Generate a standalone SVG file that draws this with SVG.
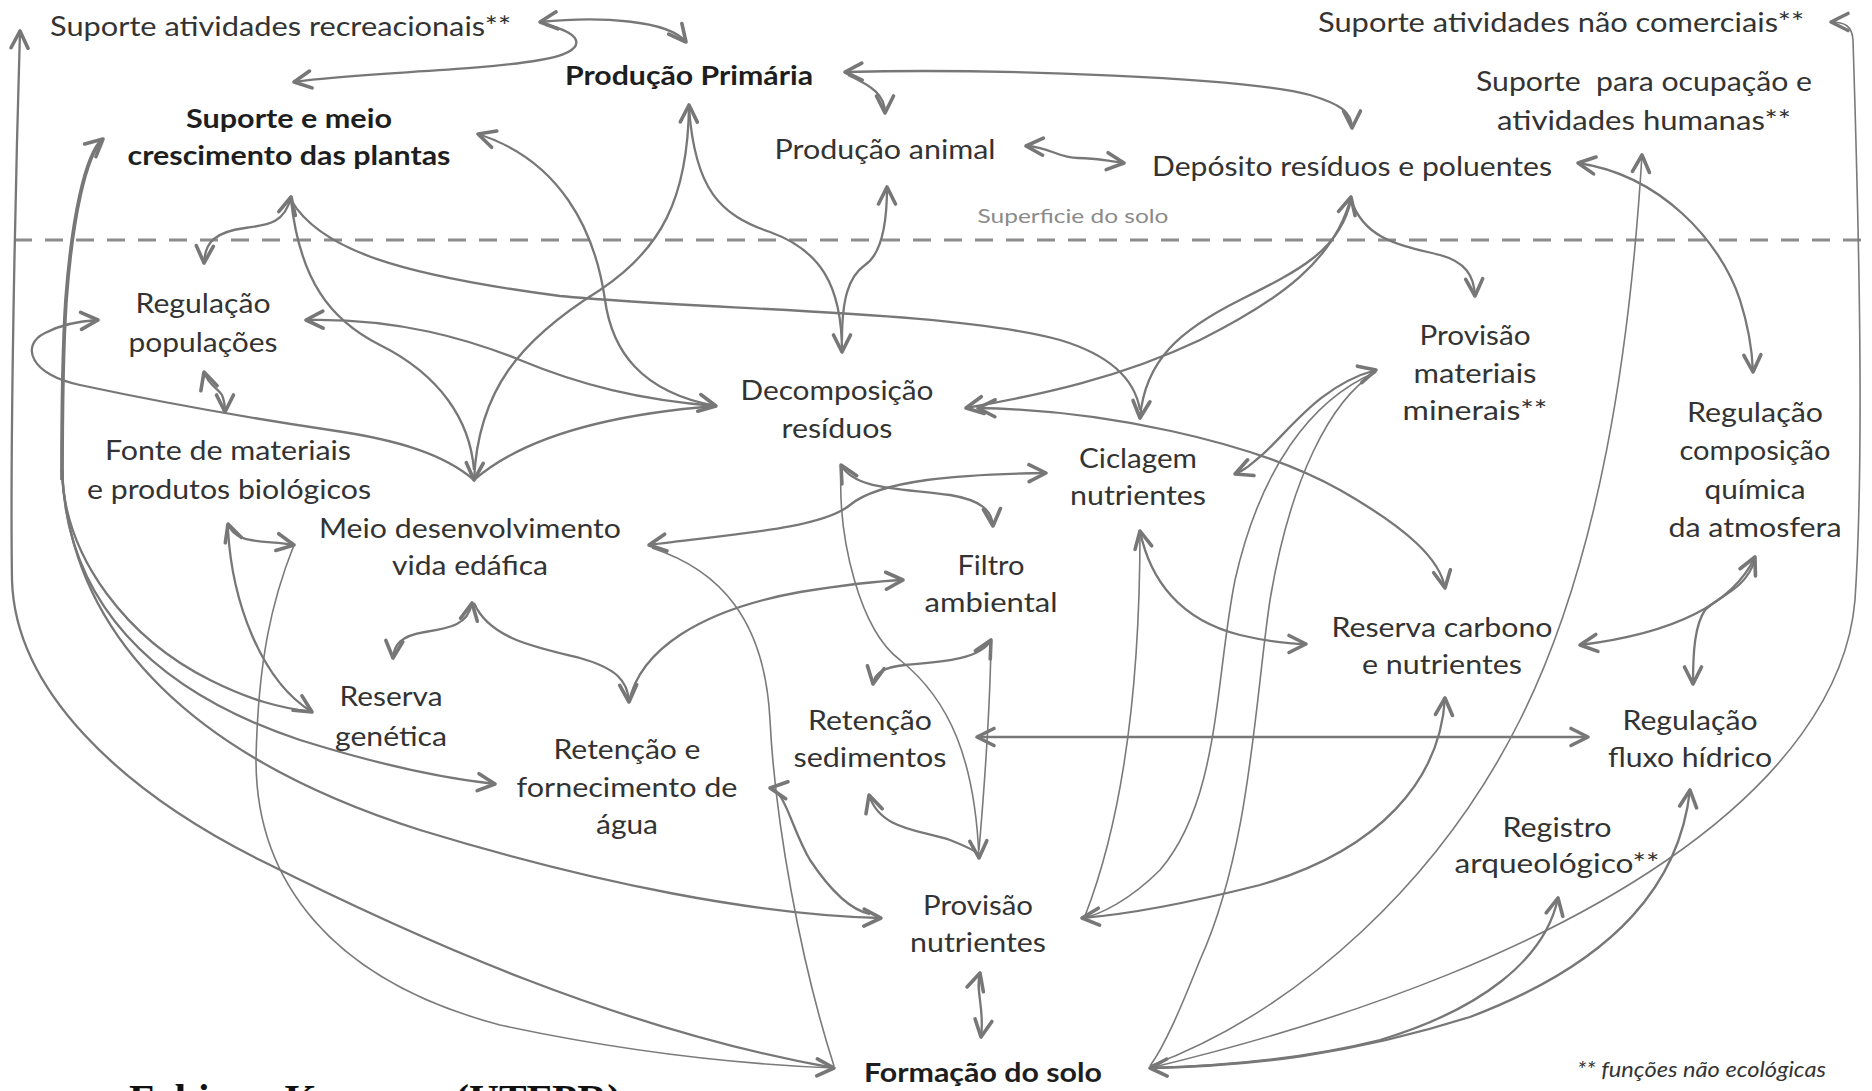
<svg xmlns="http://www.w3.org/2000/svg" width="1872" height="1091" viewBox="0 0 1872 1091">
<defs>
<style>
.t{font-family:Lato,"Open Sans","DejaVu Sans",sans-serif;font-size:26px;fill:#333;text-anchor:middle}
.b{font-weight:bold;fill:#1e1e1e}
.c{fill:none;stroke:#777;stroke-width:2.3}
.n{fill:none;stroke:#7a7a7a;stroke-width:1.6}
.k{fill:none;stroke:#777;stroke-width:3.8}
</style>
<marker id="a" viewBox="0 0 24 24" refX="20" refY="12" markerWidth="24" markerHeight="24" markerUnits="userSpaceOnUse" orient="auto-start-reverse">
<path d="M3,3.5 L20,12 L3,20.5" fill="none" stroke="#777" stroke-width="3.6" stroke-linecap="round" stroke-linejoin="round"/>
</marker>
</defs>
<rect width="1872" height="1091" fill="#fff"/>

<g id="surface">
<line x1="14" y1="240" x2="1872" y2="240" stroke="#8c8c8c" stroke-width="3" stroke-dasharray="18 13"/>
<text x="1073" y="223" style="font-family:Lato,'Open Sans',sans-serif;font-size:20px;fill:#8a8a8a;text-anchor:middle" textLength="191" lengthAdjust="spacingAndGlyphs">Superficie do solo</text>
</g>

<g id="connectors">
<path class="c" d="M540,22 C600,16 668,20 686,42" marker-start="url(#a)" marker-end="url(#a)"/>
<path class="c" d="M546,25 C585,33 590,52 540,60 C470,72 360,72 294,82" marker-end="url(#a)"/>
<path class="c" d="M845,72 C1000,68 1250,78 1310,95 C1340,104 1352,112 1352,128" marker-start="url(#a)" marker-end="url(#a)"/>
<path class="c" d="M848,75 C872,86 885,95 885,113" marker-end="url(#a)"/>
<path class="c" d="M1026,146 C1050,147 1058,158 1078,158 C1098,158 1106,161 1124,163" marker-start="url(#a)" marker-end="url(#a)"/>
<path class="c" d="M689,105 C688,200 660,250 600,290 C520,340 478,390 474,480" marker-start="url(#a)" marker-end="url(#a)"/>
<path class="c" d="M689,108 C695,190 720,215 770,232 C820,250 842,285 842,352" marker-end="url(#a)"/>
<path class="c" d="M887,187 C887,230 880,255 865,265 C848,277 842,300 842,340" marker-start="url(#a)"/>
<path class="c" d="M291,197 C285,222 270,225 245,228 C215,232 205,242 204,263" marker-start="url(#a)" marker-end="url(#a)"/>
<path class="c" d="M291,200 C300,280 330,320 380,345 C440,375 470,420 474,470"/>
<path class="c" d="M291,200 C320,250 400,275 560,296 C700,310 950,310 1060,340 C1110,355 1135,380 1140,410"/>
<path class="c" d="M478,134 C560,160 595,230 605,300 C612,350 640,392 716,406" marker-start="url(#a)" marker-end="url(#a)"/>
<path class="c" d="M306,320 C400,318 470,340 520,360 C580,385 640,400 716,406" marker-start="url(#a)"/>
<path class="c" d="M474,480 C520,440 600,415 716,406"/>
<path class="c" d="M474,480 C445,455 400,440 330,430 C250,418 150,400 80,385 C30,375 20,345 45,333 C60,325 80,321 98,320" marker-end="url(#a)"/>
<path class="c" d="M204,372 C208,385 218,388 222,395 C224,400 225,405 225,412" marker-start="url(#a)" marker-end="url(#a)"/>
<path class="c" d="M228,524 C235,545 265,540 294,545" marker-start="url(#a)" marker-end="url(#a)"/>
<path class="c" d="M228,530 C232,600 260,680 312,712" marker-end="url(#a)"/>
<path class="n" d="M294,545 C272,600 258,660 256,760 C256,880 330,980 500,1025 C640,1055 760,1065 834,1068" marker-end="url(#a)"/>
<path class="c" d="M20,31 C15,200 10,450 12,580 C15,690 120,790 260,860 C420,940 620,1030 834,1068" marker-start="url(#a)"/>
<path class="k" d="M103,139 C85,155 72,220 66,300 C62,360 62,420 62,480" marker-start="url(#a)"/>
<path class="c" d="M62,470 C64,560 130,640 210,680 C250,700 280,708 313,712"/>
<path class="c" d="M62,470 C66,600 150,690 300,740 C380,765 440,778 495,784" marker-end="url(#a)"/>
<path class="c" d="M62,470 C70,640 200,760 420,830 C600,885 760,915 881,918" marker-end="url(#a)"/>
<path class="c" d="M472,603 C468,625 450,628 425,632 C400,636 394,645 393,658" marker-start="url(#a)" marker-end="url(#a)"/>
<path class="c" d="M474,603 C490,640 540,648 580,658 C615,668 628,680 629,702" marker-end="url(#a)"/>
<path class="c" d="M629,702 C640,650 700,610 800,592 C850,584 880,581 903,580" marker-end="url(#a)"/>
<path class="c" d="M649,545 C720,535 820,530 850,505 C880,480 960,474 1046,473" marker-start="url(#a)" marker-end="url(#a)"/>
<path class="n" d="M652,548 C720,570 765,620 770,720 C775,820 800,960 834,1066"/>
<path class="c" d="M770,788 C785,790 792,830 810,860 C830,890 850,910 870,914" marker-start="url(#a)"/>
<path class="c" d="M841,465 C855,490 900,488 950,495 C980,500 992,510 993,526" marker-start="url(#a)" marker-end="url(#a)"/>
<path class="n" d="M841,470 C838,540 860,630 900,660 C950,700 975,760 979,858" marker-end="url(#a)"/>
<path class="c" d="M991,640 C980,660 940,662 905,665 C885,667 875,672 873,684" marker-start="url(#a)" marker-end="url(#a)"/>
<path class="n" d="M991,645 C990,700 985,780 979,850"/>
<path class="c" d="M977,737 L1588,737" marker-start="url(#a)" marker-end="url(#a)"/>
<path class="c" d="M869,795 C880,830 920,830 950,840 C970,848 978,852 979,855" marker-start="url(#a)"/>
<path class="c" d="M980,973 C975,990 985,1010 981,1037" marker-start="url(#a)" marker-end="url(#a)"/>
<path class="c" d="M1351,197 C1335,260 1280,300 1200,340 C1120,378 1040,395 966,408" marker-start="url(#a)" marker-end="url(#a)"/>
<path class="c" d="M978,408 C1100,410 1250,440 1340,490 C1410,530 1440,560 1445,588" marker-start="url(#a)" marker-end="url(#a)"/>
<path class="c" d="M1351,200 C1340,250 1300,270 1240,300 C1180,330 1145,360 1140,418" marker-end="url(#a)"/>
<path class="c" d="M1351,200 C1365,240 1400,245 1440,255 C1465,262 1474,275 1475,296" marker-end="url(#a)"/>
<path class="c" d="M1578,163 C1660,175 1720,240 1740,300 C1748,325 1752,345 1753,372" marker-start="url(#a)" marker-end="url(#a)"/>
<path class="n" d="M1642,155 C1630,350 1600,560 1520,720 C1440,880 1300,1010 1150,1066" marker-start="url(#a)"/>
<path class="n" d="M1831,22 C1845,22 1852,26 1853,40 C1858,200 1865,450 1855,600 C1840,780 1600,960 1150,1068" marker-start="url(#a)"/>
<path class="c" d="M1376,370 C1320,385 1290,430 1262,455 C1250,465 1245,470 1235,474" marker-start="url(#a)" marker-end="url(#a)"/>
<path class="n" d="M1376,372 C1310,400 1260,470 1235,580 C1215,680 1220,800 1160,870 C1130,900 1100,915 1082,918"/>
<path class="n" d="M1376,372 C1330,400 1290,480 1270,600 C1255,700 1250,850 1200,960 C1180,1010 1165,1045 1150,1066"/>
<path class="c" d="M1140,531 C1150,580 1180,620 1240,635 C1270,642 1290,644 1306,644" marker-start="url(#a)" marker-end="url(#a)"/>
<path class="n" d="M1140,531 C1140,650 1130,800 1085,916"/>
<path class="c" d="M1445,698 C1440,780 1380,850 1260,885 C1180,905 1120,915 1082,918" marker-start="url(#a)" marker-end="url(#a)"/>
<path class="c" d="M1755,557 C1730,610 1660,635 1580,645" marker-start="url(#a)" marker-end="url(#a)"/>
<path class="c" d="M1755,560 C1745,590 1720,595 1705,610 C1695,625 1693,650 1693,684" marker-end="url(#a)"/>
<path class="c" d="M1558,898 C1545,960 1480,1010 1380,1040 C1300,1060 1220,1066 1150,1068" marker-start="url(#a)" marker-end="url(#a)"/>
<path class="c" d="M1690,790 C1680,880 1620,960 1470,1017 C1350,1055 1250,1066 1150,1068" marker-start="url(#a)"/>
</g>

<g id="n-recreacionais"><text class="t" x="50" y="36" style="text-anchor:start" textLength="461" lengthAdjust="spacingAndGlyphs">Suporte atividades recreacionais**</text></g>
<g id="n-producao-primaria"><text class="t b" x="689" y="85" textLength="248" lengthAdjust="spacingAndGlyphs">Produção Primária</text></g>
<g id="n-suporte-plantas"><text class="t b" x="289" y="128" textLength="206" lengthAdjust="spacingAndGlyphs">Suporte e meio</text><text class="t b" x="289" y="165" textLength="323" lengthAdjust="spacingAndGlyphs">crescimento das plantas</text></g>
<g id="n-producao-animal"><text class="t" x="885" y="159" textLength="221" lengthAdjust="spacingAndGlyphs">Produção animal</text></g>
<g id="n-deposito"><text class="t" x="1352" y="176" textLength="400" lengthAdjust="spacingAndGlyphs">Depósito resíduos e poluentes</text></g>
<g id="n-nao-comerciais"><text class="t" x="1561" y="32" textLength="486" lengthAdjust="spacingAndGlyphs">Suporte atividades não comerciais**</text></g>
<g id="n-ocupacao"><text class="t" x="1644" y="91" textLength="336" lengthAdjust="spacingAndGlyphs">Suporte&#160; para ocupação e</text><text class="t" x="1644" y="130" textLength="294" lengthAdjust="spacingAndGlyphs">atividades humanas**</text></g>
<g id="n-regulacao-populacoes"><text class="t" x="203" y="313" textLength="135" lengthAdjust="spacingAndGlyphs">Regulação</text><text class="t" x="203" y="352" textLength="149" lengthAdjust="spacingAndGlyphs">populações</text></g>
<g id="n-decomposicao"><text class="t" x="837" y="400" textLength="193" lengthAdjust="spacingAndGlyphs">Decomposição</text><text class="t" x="837" y="438" textLength="111" lengthAdjust="spacingAndGlyphs">resíduos</text></g>
<g id="n-provisao-materiais"><text class="t" x="1475" y="345" textLength="111" lengthAdjust="spacingAndGlyphs">Provisão</text><text class="t" x="1475" y="383" textLength="123" lengthAdjust="spacingAndGlyphs">materiais</text><text class="t" x="1475" y="420" textLength="145" lengthAdjust="spacingAndGlyphs">minerais**</text></g>
<g id="n-regulacao-atmosfera"><text class="t" x="1755" y="422" textLength="136" lengthAdjust="spacingAndGlyphs">Regulação</text><text class="t" x="1755" y="460" textLength="151" lengthAdjust="spacingAndGlyphs">composição</text><text class="t" x="1755" y="499" textLength="101" lengthAdjust="spacingAndGlyphs">química</text><text class="t" x="1755" y="537" textLength="173" lengthAdjust="spacingAndGlyphs">da atmosfera</text></g>
<g id="n-fonte"><text class="t" x="228" y="460" textLength="246" lengthAdjust="spacingAndGlyphs">Fonte de materiais</text><text class="t" x="229" y="499" textLength="284" lengthAdjust="spacingAndGlyphs">e produtos biológicos</text></g>
<g id="n-ciclagem"><text class="t" x="1138" y="468" textLength="118" lengthAdjust="spacingAndGlyphs">Ciclagem</text><text class="t" x="1138" y="505" textLength="136" lengthAdjust="spacingAndGlyphs">nutrientes</text></g>
<g id="n-meio-vida"><text class="t" x="470" y="538" textLength="302" lengthAdjust="spacingAndGlyphs">Meio desenvolvimento</text><text class="t" x="470" y="575" textLength="156" lengthAdjust="spacingAndGlyphs">vida edáfica</text></g>
<g id="n-filtro"><text class="t" x="991" y="575" textLength="67" lengthAdjust="spacingAndGlyphs">Filtro</text><text class="t" x="991" y="612" textLength="133" lengthAdjust="spacingAndGlyphs">ambiental</text></g>
<g id="n-reserva-carbono"><text class="t" x="1442" y="637" textLength="221" lengthAdjust="spacingAndGlyphs">Reserva carbono</text><text class="t" x="1442" y="674" textLength="160" lengthAdjust="spacingAndGlyphs">e nutrientes</text></g>
<g id="n-reserva-genetica"><text class="t" x="391" y="706" textLength="103" lengthAdjust="spacingAndGlyphs">Reserva</text><text class="t" x="391" y="746" textLength="112" lengthAdjust="spacingAndGlyphs">genética</text></g>
<g id="n-retencao-sedimentos"><text class="t" x="870" y="730" textLength="124" lengthAdjust="spacingAndGlyphs">Retenção</text><text class="t" x="870" y="767" textLength="153" lengthAdjust="spacingAndGlyphs">sedimentos</text></g>
<g id="n-regulacao-fluxo"><text class="t" x="1690" y="730" textLength="135" lengthAdjust="spacingAndGlyphs">Regulação</text><text class="t" x="1690" y="767" textLength="164" lengthAdjust="spacingAndGlyphs">fluxo hídrico</text></g>
<g id="n-retencao-agua"><text class="t" x="627" y="759" textLength="147" lengthAdjust="spacingAndGlyphs">Retenção e</text><text class="t" x="627" y="797" textLength="221" lengthAdjust="spacingAndGlyphs">fornecimento de</text><text class="t" x="627" y="834" textLength="62" lengthAdjust="spacingAndGlyphs">água</text></g>
<g id="n-registro"><text class="t" x="1557" y="837" textLength="109" lengthAdjust="spacingAndGlyphs">Registro</text><text class="t" x="1557" y="873" textLength="205" lengthAdjust="spacingAndGlyphs">arqueológico**</text></g>
<g id="n-provisao-nutrientes"><text class="t" x="978" y="915" textLength="110" lengthAdjust="spacingAndGlyphs">Provisão</text><text class="t" x="978" y="952" textLength="136" lengthAdjust="spacingAndGlyphs">nutrientes</text></g>
<g id="n-formacao"><text class="t b" x="983" y="1082" textLength="238" lengthAdjust="spacingAndGlyphs">Formação do solo</text></g>
<g id="legend"><text x="1826" y="1077" style="font-family:Lato,'Open Sans',sans-serif;font-size:21px;font-style:italic;fill:#333;text-anchor:end" textLength="249" lengthAdjust="spacingAndGlyphs">** funções não ecológicas</text></g>
<g id="credit"><text x="129" y="1112" style="font-family:'Liberation Serif',serif;font-size:40px;font-weight:bold;fill:#111" textLength="492" lengthAdjust="spacingAndGlyphs">Fabiano Kummer (UTFPR)</text></g>
</svg>
